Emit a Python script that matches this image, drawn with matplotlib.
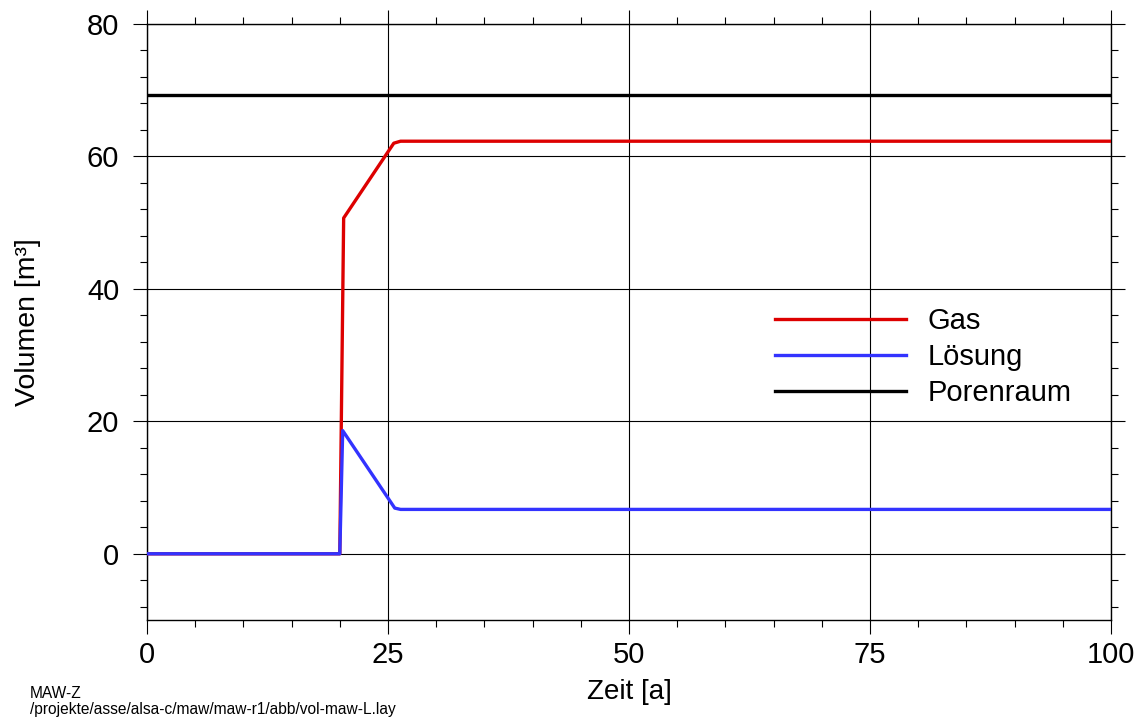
import numpy as np
import matplotlib
matplotlib.use('Agg')
import matplotlib.pyplot as plt
from matplotlib.ticker import MultipleLocator

plt.rcParams['font.family'] = ['Liberation Sans', 'DejaVu Sans']

# data
gas_t = [0, 20.0, 20.4, 25.6, 26.3, 100]
gas_v = [0, 0, 50.7, 62.0, 62.3, 62.3]
loes_t = [0, 20.0, 20.3, 25.7, 26.3, 100]
loes_v = [0, 0, 18.6, 6.9, 6.7, 6.7]
poren_t = [0, 100]
poren_v = [69.3, 69.3]

labels = ['Gas', 'Lösung', 'Porenraum']
colors = ['#dd0000', '#3333ff', '#000000']

fig = plt.figure(figsize=(11.42, 7.17), dpi=100)
ax = fig.add_axes([147/1142, 1-620/717, (1111-147)/1142, (620-24)/717])

ax.plot(gas_t, gas_v, color=colors[0], lw=2.4, label=labels[0], zorder=3)
ax.plot(loes_t, loes_v, color=colors[1], lw=2.4, label=labels[1], zorder=3)
ax.plot(poren_t, poren_v, color=colors[2], lw=2.4, label=labels[2], zorder=3)

ax.set_xlim(0, 100)
ax.set_ylim(-10, 80)
ax.xaxis.set_major_locator(MultipleLocator(25))
ax.xaxis.set_minor_locator(MultipleLocator(5))
ax.yaxis.set_major_locator(MultipleLocator(20))
ax.yaxis.set_minor_locator(MultipleLocator(4))

ax.grid(which='major', color='k', lw=0.8)
ax.tick_params(which='both', direction='out', top=True, right=True, width=0.8, color='k')
ax.tick_params(which='major', length=10)
ax.tick_params(which='minor', length=5)
ax.tick_params(axis='x', labelsize=21, pad=5)
ax.tick_params(axis='y', labelsize=21, pad=10)
for spi in ['top', 'bottom', 'left', 'right']:
    ax.spines[spi].set_linewidth(1.0)

ax.set_xlabel('Zeit [a]', fontsize=20, labelpad=7)
ax.set_ylabel('Volumen [m³]', fontsize=20.5, labelpad=33)

ax.legend(loc='center left', bbox_to_anchor=((775-147)/964, (620-357)/596), frameon=False,
          fontsize=21, handlelength=4.5, handletextpad=0.72, labelspacing=0.27,
          borderpad=0, borderaxespad=0)

fig.text(30/1142, 1-698/717, 'MAW-Z', fontsize=11.2, va='baseline')
fig.text(30/1142, 1-714/717, '/projekte/asse/alsa-c/maw/maw-r1/abb/vol-maw-L.lay',
         fontsize=11.2, va='baseline')

fig.savefig('out.png', dpi=100)
